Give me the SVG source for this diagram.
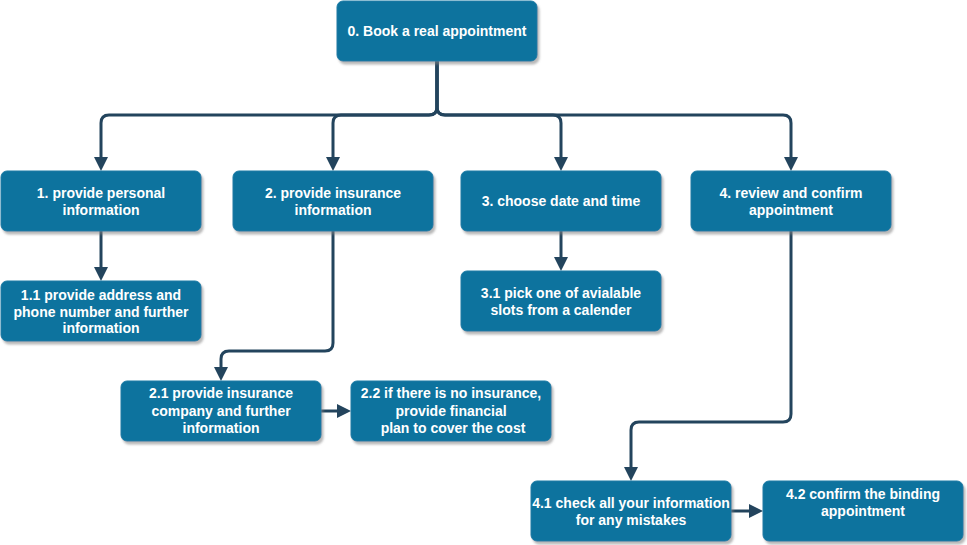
<svg xmlns="http://www.w3.org/2000/svg" width="967" height="545" viewBox="0 0 967 545">
<defs>
<style>
.n rect{fill:#10739E;stroke:#1b7aa4;stroke-width:1;filter:url(#sh)}
.n text{fill:#fff;font-family:"Liberation Sans",Arial,sans-serif;font-weight:bold;font-size:14px;text-anchor:middle}
.c path{fill:none;stroke:#23445D;stroke-width:3;marker-end:url(#ah)}
</style>
<filter id="sh" x="-10%" y="-10%" width="130%" height="140%">
<feDropShadow dx="2" dy="3" stdDeviation="1.2" flood-color="#808080" flood-opacity="0.55"/>
</filter>
<marker id="ah" viewBox="0 0 14 14" refX="8" refY="7" markerWidth="14" markerHeight="14" markerUnits="userSpaceOnUse" orient="auto">
<path d="M0,0 L14,7 L0,14 z" fill="#23445D"/>
</marker>
</defs>
<rect width="967" height="545" fill="#fff"/>
<g class="c" id="connectors">
<path d="M437,61 V107 Q437,115 429,115 H109 Q101,115 101,123 V165"/>
<path d="M437,61 V107 Q437,115 429,115 H341 Q333,115 333,123 V165"/>
<path d="M437,61 V107 Q437,115 445,115 H553 Q561,115 561,123 V165"/>
<path d="M437,61 V107 Q437,115 445,115 H783 Q791,115 791,123 V165"/>
<path d="M101,231 V275"/>
<path d="M333,231 V343 Q333,351 325,351 H229 Q221,351 221,359 V375"/>
<path d="M321,411 H345"/>
<path d="M561,231 V265"/>
<path d="M791,231 V414 Q791,422 783,422 H639 Q631,422 631,430 V475"/>
<path d="M731,511 H757"/>
</g>
<g class="n" id="n0"><rect x="337" y="1" width="200" height="60" rx="6"/><text x="437" y="36">0. Book a real appointment</text></g>
<g class="n" id="n1"><rect x="1" y="171" width="200" height="60" rx="6"/><text x="101" y="198">1. provide personal</text><text x="101" y="215">information</text></g>
<g class="n" id="n11"><rect x="1" y="281" width="200" height="60" rx="6"/><text x="101" y="300">1.1 provide address and</text><text x="101" y="317">phone number and further</text><text x="101" y="333">information</text></g>
<g class="n" id="n2"><rect x="233" y="171" width="200" height="60" rx="6"/><text x="333" y="198">2. provide insurance</text><text x="333" y="215">information</text></g>
<g class="n" id="n21"><rect x="121" y="381" width="200" height="60" rx="6"/><text x="221" y="398">2.1 provide insurance</text><text x="221" y="416">company and further</text><text x="221" y="433">information</text></g>
<g class="n" id="n22"><rect x="351" y="381" width="200" height="60" rx="6"/><text x="451" y="398">2.2 if there is no insurance,</text><text x="451" y="416">provide financial</text><text x="453" y="433">plan to cover the cost</text></g>
<g class="n" id="n3"><rect x="461" y="171" width="200" height="60" rx="6"/><text x="561" y="206">3. choose date and time</text></g>
<g class="n" id="n31"><rect x="461" y="271" width="200" height="60" rx="6"/><text x="561" y="298">3.1 pick one of avialable</text><text x="561" y="315">slots from a calender</text></g>
<g class="n" id="n4"><rect x="691" y="171" width="200" height="60" rx="6"/><text x="791" y="198">4. review and confirm</text><text x="791" y="215">appointment</text></g>
<g class="n" id="n41"><rect x="531" y="481" width="200" height="60" rx="6"/><text x="631" y="508">4.1 check all your information</text><text x="631" y="525">for any mistakes</text></g>
<g class="n" id="n42"><rect x="763" y="481" width="200" height="60" rx="6"/><text x="863" y="499">4.2 confirm the binding</text><text x="863" y="516">appointment</text></g>
</svg>
